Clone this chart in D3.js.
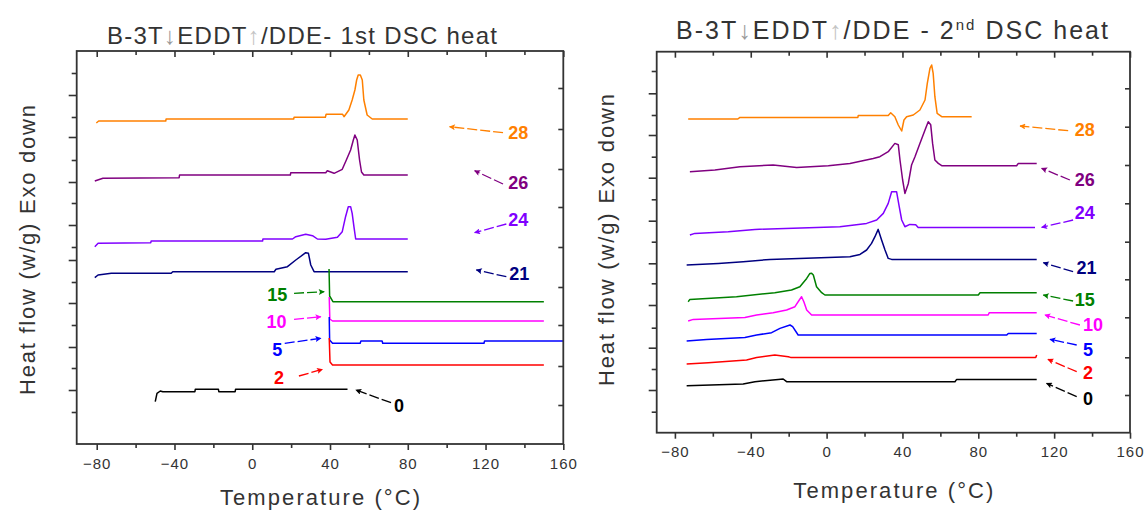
<!DOCTYPE html>
<html><head><meta charset="utf-8">
<script src="https://cdn.jsdelivr.net/npm/d3@7"></script>
<style>body{margin:0;background:#fff}</style>
</head><body><svg id="c" width="1147" height="517"></svg>
<script>
// ---------- DATA (temperature °C, heat flow in arbitrary units) ----------
const seriesNames  = ["28","26","24","21","15","10","5","2","0"];
const seriesColors = ["#FF8000","#800080","#8000FF","#000080","#008000","#FF00FF","#0000FF","#FF0000","#000000"];

// 1st DSC heat
const heat1_28 = [[-80.2,32.1],[-79,32.3],[-44.5,32.3],[-44.3,32.5],[21.3,32.5],[21.5,32.67],[37.6,32.67],[38,32.97],[46.5,32.97],[47.2,32.73],[49.7,33.4],[51.4,34.4],[52.8,35.4],[53.7,36.4],[54.5,36.9],[55.6,36.9],[56.6,36.4],[57.4,34.4],[59.1,32.9],[61.7,32.5],[80,32.5]];
const heat1_26 = [[-81,26.3],[-76.8,26.57],[-37.6,26.63],[-37.4,26.9],[19.6,26.9],[19.8,27.13],[37.8,27.13],[38.6,27.33],[42.1,27.07],[46.3,27.47],[48.4,28.4],[50.6,29.4],[52,30.4],[52.8,30.9],[54,30.4],[55.2,28.4],[56.2,27.2],[57.4,26.9],[80,26.9]];
const heat1_24 = [[-81,19.73],[-79.3,20.07],[-52.2,20.13],[-52,20.3],[5.3,20.3],[5.5,20.5],[20.7,20.5],[22.4,20.73],[27.5,20.97],[31,20.83],[33.5,20.5],[37.8,20.47],[43.8,20.67],[46.3,21.23],[48,22.73],[49.4,23.73],[50.6,23.73],[51.4,23.07],[52.3,21.73],[53.2,20.5],[80,20.5]];
const heat1_21 = [[-81,16.63],[-79.3,16.9],[-72.5,17.07],[-41.7,17.07],[-40.9,17.23],[11.3,17.23],[12.2,17.47],[18.1,17.73],[22.4,18.4],[27.5,19.13],[28.9,19.07],[30.1,17.9],[31.8,17.23],[80,17.23]];
const heat1_15 = [[39.5,17.5],[39.8,14.8],[41.5,14.23],[150,14.23]];
const heat1_10 = [[39.6,14.7],[39.9,12.5],[41.3,12.3],[150,12.3]];
const heat1_5  = [[39.6,12.7],[39.8,10.4],[41.3,10.07],[55.5,10.07],[55.9,10.3],[66.8,10.3],[67.1,10.07],[119.2,10.07],[119.5,10.3],[160,10.3]];
const heat1_2  = [[39.6,10.6],[40,8.2],[41.3,7.9],[150,7.9]];
const heat1_0  = [[-49.9,4.23],[-49,5.07],[-47.3,5.3],[-46,5.23],[-29.5,5.23],[-29.3,5.47],[-17.4,5.47],[-17.2,5.23],[-8.8,5.23],[-8.6,5.47],[49,5.47]];

// 2nd DSC heat
const heat2_28 = [[-73,31.37],[-46.8,31.37],[-45.7,31.53],[16.5,31.53],[16.7,31.73],[32.5,31.73],[33.8,32.0],[36,31.6],[37.8,30.77],[39.6,30.17],[40.8,31.27],[42.2,31.6],[45.7,31.77],[49.2,32.27],[51.9,33.27],[53.1,34.93],[54.5,36.43],[55.4,36.77],[56.2,35.93],[57.1,33.6],[58.3,31.93],[60.7,31.6],[76.5,31.6]];
const heat2_26 = [[-72.1,26.1],[-58.9,26.27],[-45.7,26.6],[-28.2,26.77],[-15.8,26.53],[0.9,26.7],[12.3,26.93],[24.6,27.43],[28.1,27.6],[32.5,28.1],[36,28.93],[37.8,28.8],[38.7,27.27],[40.1,25.27],[41.3,23.93],[43.1,24.93],[44.8,26.77],[46.6,27.6],[49.2,28.93],[51.9,30.27],[53.6,31.1],[54.9,30.8],[55.9,28.93],[57.1,27.27],[58.9,26.93],[60.7,26.7],[100.2,26.7],[101.1,26.93],[110.8,26.93]];
const heat2_24 = [[-72.1,19.77],[-69.5,19.93],[-51.9,20.1],[-37.8,20.33],[7,20.6],[21.1,20.93],[26.4,21.27],[29.9,21.93],[32.5,22.93],[34.3,24.1],[36.9,24.1],[38.3,22.6],[39.6,21.27],[41.3,20.6],[43.9,20.83],[47,20.8],[48.3,20.53],[109.9,20.53]];
const heat2_21 = [[-73.8,16.77],[-57.1,16.93],[-44,17.1],[-29.9,17.33],[12.3,17.6],[17.6,17.83],[21.1,18.27],[23.7,18.93],[25.5,19.6],[27.2,20.33],[29,19.27],[30.8,18.27],[32.5,17.43],[34.3,17.33],[110.8,17.33]];
const heat2_15 = [[-73,13.1],[-72.1,13.33],[-47.5,13.6],[-27.3,14.0],[-18.5,14.27],[-14.1,14.6],[-10.5,15.43],[-8.8,15.93],[-7.9,15.95],[-7,15.77],[-5.3,14.6],[-2.6,14.0],[-0.9,13.77],[80,13.77],[80.9,14.0],[110.8,14.0]];
const heat2_10 = [[-73,11.17],[-70.3,11.33],[-43.1,11.53],[-36.9,11.77],[-28.2,12.0],[-21.1,12.27],[-16.7,12.6],[-14.4,13.27],[-13.2,13.6],[-12,13.1],[-10.5,12.27],[-7.9,11.77],[85.2,11.77],[85.8,12.0],[110.8,12.0]];
const heat2_5  = [[-73.8,9.17],[-63.3,9.33],[-43.1,9.53],[-36.9,9.77],[-29,10.0],[-24.6,10.43],[-19.3,10.77],[-17.9,10.6],[-15,9.77],[95,9.77],[95.8,9.93],[110.8,9.93]];
const heat2_2  = [[-73.8,6.87],[-62.4,7.0],[-42.2,7.27],[-36.9,7.53],[-27.3,7.77],[-20.2,7.6],[-19,7.53],[110.3,7.53],[110.8,7.77]];
const heat2_0  = [[-73.8,4.7],[-44,4.87],[-37.8,5.1],[-25.5,5.33],[-22.9,5.37],[-21.1,5.1],[67.7,5.1],[68.6,5.33],[110.8,5.33]];

// label annotations: [text T, text v, tail T, tail v, head T, head v]
const labels1 = [[136.8,31.07,129,31.13,101.5,31.73],[136.8,26.07,129,26.0,114.4,27.33],[136.8,22.4,130.7,22.0,114.4,21.13],[137.4,17.0,130.7,16.73,115.3,17.4],
                 [12.9,14.9,21.5,15.07,37,15.23],[12.5,12.23,21.5,12.47,35.3,12.73],[12.9,9.4,16.7,10.07,35.3,10.57],[13.7,6.57,24,6.8,36.1,7.47],[75.5,3.8,71.4,4.13,53.3,5.4]];
const labels2 = [[136.2,30.27,127.4,30.2,102,30.67],[136.2,25.27,128.3,25.27,113.4,26.44],[136.2,21.94,130,21.27,113.4,20.54],[137.1,16.44,130,16.1,114.3,17.0],
                 [136.2,13.27,130,13.17,114.3,13.77],[140.5,10.77,133.6,10.77,115.1,11.77],[137.8,8.27,131.9,8.77,117.8,9.34],[137.8,6.0,131.9,6.1,116.7,7.34],[137.8,3.34,131.9,3.6,116,4.94]];

// axis ticks
const xMajor = [-80,-40,0,40,80,120,160];
const xMinor = [-60,-20,20,60,100,140];
const yLeft1  = [37.1,34.9,32.7,30.7,28.4,26.2,24.1,21.9,19.7,18.4,16.2,14.1,11.9,9.7,7.6,5.4,3.2];
const yLeft1Major = [false,true,false,true,false,true,false,true,false,true,false,true,false,true,false,true,false];
const yRight1 = [35.6,31.5,27.5,23.7,19.7,15.7,11.9,7.8,3.9];
const yLeft2  = [36.17,33.94,31.77,29.77,27.6,25.5,23.34,21.2,19.1,16.94,14.94,12.77,10.5,8.5,6.37,4.27,2.1];
const yLeft2Major = [false,true,false,true,false,true,false,true,false,true,false,true,false,true,false,true,false];
const yRight2 = [34.44,30.6,26.77,22.94,19.1,15.34,11.54,7.54,3.77];

const heat1 = [heat1_28,heat1_26,heat1_24,heat1_21,heat1_15,heat1_10,heat1_5,heat1_2,heat1_0];
const heat2 = [heat2_28,heat2_26,heat2_24,heat2_21,heat2_15,heat2_10,heat2_5,heat2_2,heat2_0];

// ---------- DRAW ----------
const svg = d3.select("#c");
const FONT = "'Liberation Sans', Arial, Helvetica, sans-serif";
const TXT = "#333";
svg.append("rect").attr("width",1147).attr("height",517).attr("fill","#fff");

const defs = svg.append("defs");
seriesColors.forEach((c,i)=>{
  defs.append("marker").attr("id","ah"+i).attr("viewBox","0 0 10 10").attr("refX",9).attr("refY",5)
    .attr("markerWidth",7).attr("markerHeight",6).attr("markerUnits","userSpaceOnUse").attr("orient","auto")
    .append("path").attr("d","M10,5 L0,0 L2,5 L0,10 Z").attr("fill",c);
});

function panel(cfg){
  const g = svg.append("g");
  const x = d3.scaleLinear().domain(cfg.xDomain).range([cfg.x0,cfg.x1]);
  const y = d3.scaleLinear().domain(cfg.yDomain).range([cfg.y1,cfg.y0]);

  // ticks
  const axG = g.append("g");
  const bot = axG.append("g").attr("transform",`translate(0,${cfg.y1})`)
    .call(d3.axisBottom(x).tickValues(xMajor).tickSizeInner(6).tickSizeOuter(0).tickPadding(cfg.tickPad).tickFormat(d3.format("d")));
  axG.append("g").attr("transform",`translate(0,${cfg.y1})`)
    .call(d3.axisBottom(x).tickValues(xMinor).tickSizeInner(4).tickSizeOuter(0).tickFormat(""));
  axG.append("g").attr("transform",`translate(0,${cfg.y0})`)
    .call(d3.axisTop(x).tickValues(xMajor).tickSizeInner(-6).tickSizeOuter(0).tickFormat(""));
  axG.append("g").attr("transform",`translate(0,${cfg.y0})`)
    .call(d3.axisTop(x).tickValues(xMinor).tickSizeInner(-4).tickSizeOuter(0).tickFormat(""));
  const maj = cfg.yL.filter((d,i)=>cfg.yLM[i]), mnr = cfg.yL.filter((d,i)=>!cfg.yLM[i]);
  axG.append("g").attr("transform",`translate(${cfg.x0},0)`)
    .call(d3.axisLeft(y).tickValues(maj).tickSizeInner(8).tickSizeOuter(0).tickFormat(""));
  axG.append("g").attr("transform",`translate(${cfg.x0},0)`)
    .call(d3.axisLeft(y).tickValues(mnr).tickSizeInner(5).tickSizeOuter(0).tickFormat(""));
  axG.append("g").attr("transform",`translate(${cfg.x1},0)`)
    .call(d3.axisRight(y).tickValues(cfg.yR).tickSizeInner(-5).tickSizeOuter(0).tickFormat(""));
  axG.selectAll(".domain").remove();
  axG.selectAll(".tick line").attr("stroke","#333").attr("stroke-width",1.6);
  bot.selectAll(".tick text").attr("font-family",FONT).attr("font-size",15).attr("fill",TXT)
     .attr("letter-spacing","1px");

  // curves
  const line = d3.line().x(d=>x(d[0])).y(d=>y(d[1]));
  cfg.data.forEach((s,i)=>{
    g.append("path").datum(s).attr("d",line).attr("fill","none")
      .attr("stroke",seriesColors[i]).attr("stroke-width",1.5).attr("stroke-linejoin","round");
  });

  // frame
  g.append("rect").attr("x",cfg.x0).attr("y",cfg.y0).attr("width",cfg.x1-cfg.x0).attr("height",cfg.y1-cfg.y0)
    .attr("fill","none").attr("stroke","#333").attr("stroke-width",1.8);

  // annotations
  cfg.labels.forEach((L,i)=>{
    g.append("line").attr("x1",x(L[2])).attr("y1",y(L[3])).attr("x2",x(L[4])).attr("y2",y(L[5]))
      .attr("stroke",seriesColors[i]).attr("stroke-width",1.3).attr("stroke-dasharray","10,3")
      .attr("marker-end",`url(#ah${i})`);
    g.append("text").attr("x",x(L[0])).attr("y",y(L[1])).attr("text-anchor","middle").attr("dominant-baseline","central")
      .attr("font-family",FONT).attr("font-size",18).attr("font-weight","bold").attr("fill",seriesColors[i])
      .text(seriesNames[i]);
  });

  // axis titles
  g.append("text").attr("x",(cfg.x0+cfg.x1)/2).attr("y",cfg.xtY).attr("text-anchor","middle")
    .attr("font-family",FONT).attr("font-size",22).attr("fill",TXT)
    .attr("textLength",200).attr("lengthAdjust","spacing").text("Temperature (°C)");
  g.append("text").attr("transform",`translate(${cfg.ytX},${cfg.ytY}) rotate(-90)`).attr("text-anchor","middle")
    .attr("font-family",FONT).attr("font-size",22).attr("fill",TXT)
    .attr("textLength",cfg.ytLen).attr("lengthAdjust","spacing").text("Heat flow (w/g) Exo down");

  // title
  const t = g.append("text").attr("x",cfg.titleX).attr("y",cfg.titleY).attr("text-anchor","middle")
    .attr("font-family",FONT).attr("font-size",cfg.titleSize).attr("fill",TXT)
    .attr("textLength",cfg.titleLen).attr("lengthAdjust","spacing");
  t.append("tspan").text("B-3T");
  t.append("tspan").attr("fill","#9a9a9a").text("↓");
  t.append("tspan").text("EDDT");
  t.append("tspan").attr("fill","#c4c4c4").text("↑");
  cfg.titleParts(t);
}

panel({x0:76.7,x1:563.3,y0:51,y1:444,xDomain:[-90.3,160],yDomain:[0,39.3],data:heat1,labels:labels1,
  yL:yLeft1,yLM:yLeft1Major,yR:yRight1,tickPad:8,xtY:505,ytX:35,ytY:250,ytLen:290,
  titleX:302,titleY:44,titleSize:24,titleLen:390,
  titleParts:t=>{t.append("tspan").text("/DDE- 1st DSC heat");}});
panel({x0:656.7,x1:1130,y0:51.7,y1:432.7,xDomain:[-89.6,160],yDomain:[0,38.1],data:heat2,labels:labels2,
  yL:yLeft2,yLM:yLeft2Major,yR:yRight2,tickPad:8,xtY:498,ytX:614,ytY:240,ytLen:292,
  titleX:892,titleY:39,titleSize:25,titleLen:432,
  titleParts:t=>{t.append("tspan").text("/DDE - 2");
    t.append("tspan").attr("font-size",15).attr("dy",-9).text("nd");
    t.append("tspan").attr("dy",9).text(" DSC heat");}});
</script>
</body></html>
